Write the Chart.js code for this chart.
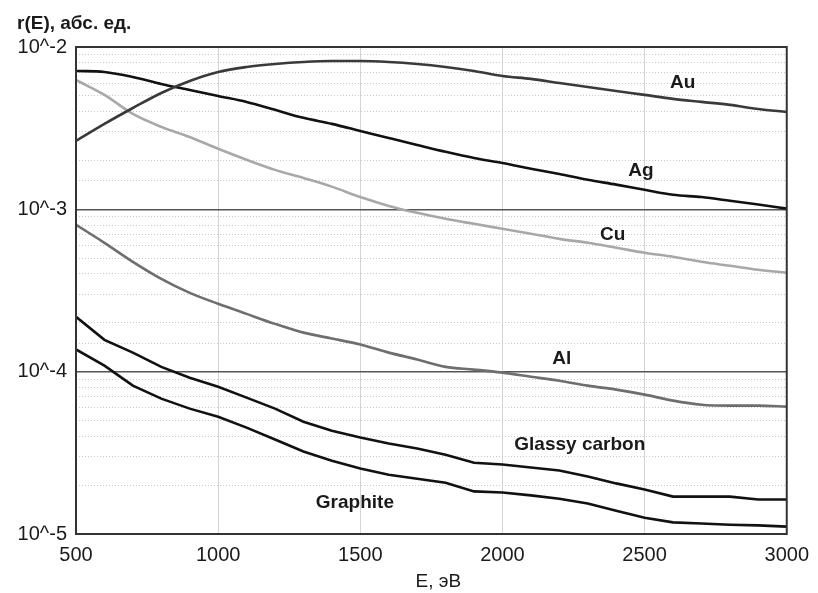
<!DOCTYPE html>
<html>
<head>
<meta charset="utf-8">
<script src="https://cdn.jsdelivr.net/npm/chart.js@4.4.1/dist/chart.umd.min.js"></script>
<style>
  html, body { margin: 0; padding: 0; background: #fff; }
  canvas { display: block; }
</style>
</head>
<body>
<canvas id="chart" width="818" height="593"></canvas>
<script>
// энергия, эВ
const energy = [500, 600, 700, 800, 900, 1000, 1100, 1200, 1300, 1400, 1500, 1600, 1700,
  1800, 1900, 2000, 2100, 2200, 2300, 2400, 2500, 2600, 2700, 2800, 2900, 3000];

const au = [2.64e-3, 3.36e-3, 4.21e-3, 5.21e-3, 6.18e-3, 7.02e-3, 7.53e-3, 7.86e-3, 8.09e-3, 8.20e-3,
  8.20e-3, 8.09e-3, 7.86e-3, 7.53e-3, 7.12e-3, 6.63e-3, 6.36e-3, 6.00e-3, 5.67e-3, 5.36e-3,
  5.07e-3, 4.79e-3, 4.59e-3, 4.40e-3, 4.15e-3, 3.98e-3];
const ag = [7.12e-3, 7.02e-3, 6.54e-3, 5.92e-3, 5.44e-3, 4.99e-3, 4.59e-3, 4.10e-3, 3.66e-3, 3.36e-3,
  3.04e-3, 2.75e-3, 2.49e-3, 2.26e-3, 2.07e-3, 1.93e-3, 1.78e-3, 1.65e-3, 1.52e-3, 1.42e-3,
  1.32e-3, 1.23e-3, 1.19e-3, 1.13e-3, 1.07e-3, 1.01e-3];
const cu = [6.26e-3, 5.07e-3, 3.87e-3, 3.22e-3, 2.79e-3, 2.36e-3, 2.02e-3, 1.75e-3, 1.56e-3, 1.38e-3,
  1.19e-3, 1.05e-3, 9.52e-4, 8.74e-4, 8.14e-4, 7.59e-4, 7.07e-4, 6.58e-4, 6.22e-4, 5.80e-4,
  5.40e-4, 5.10e-4, 4.75e-4, 4.49e-4, 4.24e-4, 4.07e-4];
const al = [8.03e-4, 6.22e-4, 4.75e-4, 3.73e-4, 3.06e-4, 2.62e-4, 2.27e-4, 1.97e-4, 1.74e-4, 1.60e-4,
  1.47e-4, 1.31e-4, 1.19e-4, 1.07e-4, 1.03e-4, 9.86e-5, 9.31e-5, 8.80e-5, 8.20e-5, 7.75e-5,
  7.22e-5, 6.63e-5, 6.26e-5, 6.18e-5, 6.18e-5, 6.09e-5];
const glassy = [2.18e-4, 1.57e-4, 1.31e-4, 1.07e-4, 9.18e-5, 8.08e-5, 6.92e-5, 5.92e-5, 4.92e-5, 4.33e-5,
  3.93e-5, 3.61e-5, 3.36e-5, 3.08e-5, 2.75e-5, 2.68e-5, 2.57e-5, 2.46e-5, 2.26e-5, 2.05e-5,
  1.88e-5, 1.70e-5, 1.70e-5, 1.70e-5, 1.63e-5, 1.63e-5];
const graphite = [1.37e-4, 1.09e-4, 8.20e-5, 6.82e-5, 5.92e-5, 5.28e-5, 4.52e-5, 3.82e-5, 3.22e-5, 2.83e-5,
  2.53e-5, 2.32e-5, 2.19e-5, 2.07e-5, 1.83e-5, 1.80e-5, 1.73e-5, 1.65e-5, 1.54e-5, 1.39e-5,
  1.26e-5, 1.18e-5, 1.16e-5, 1.14e-5, 1.13e-5, 1.11e-5];

// подписи кривых: текст, E, r(E)
const curveLabels = [
  { text: 'Au', e: 2634, v: 6.0e-3 },
  { text: 'Ag', e: 2487, v: 1.73e-3 },
  { text: 'Cu', e: 2388, v: 6.97e-4 },
  { text: 'Al', e: 2209, v: 1.20e-4 },
  { text: 'Glassy carbon', e: 2272, v: 3.56e-5 },
  { text: 'Graphite', e: 1481, v: 1.56e-5 }
];

const FONT = '"Liberation Sans", Arial, sans-serif';

const toPoints = arr => arr.map((v, i) => ({ x: energy[i], y: v }));
const isDecade = v => Math.abs(Math.log10(v) - Math.round(Math.log10(v))) < 1e-6;

const makeSet = (label, data, color, smooth) => ({
  label: label,
  data: toPoints(data),
  borderColor: color,
  borderWidth: 2.6,
  pointRadius: 0,
  fill: false,
  cubicInterpolationMode: smooth ? 'monotone' : 'default',
  tension: 0
});

const textPlugin = {
  id: 'texts',
  afterDatasetsDraw(chart) {
    const ctx = chart.ctx;
    const a = chart.chartArea;
    const xs = chart.scales.x, ys = chart.scales.y;
    ctx.save();
    // рамка
    ctx.strokeStyle = '#333';
    ctx.lineWidth = 2;
    ctx.strokeRect(a.left, a.top, a.right - a.left, a.bottom - a.top);

    ctx.fillStyle = '#1a1a1a';
    ctx.textAlign = 'center';
    ctx.textBaseline = 'middle';
    ctx.font = 'bold 19px ' + FONT;
    curveLabels.forEach(l => {
      ctx.fillText(l.text, xs.getPixelForValue(l.e), ys.getPixelForValue(l.v));
    });

    // подписи осей
    ctx.font = 'bold 19px ' + FONT;
    ctx.textAlign = 'left';
    ctx.fillText('r(E), абс. ед.', 17, 24);
    ctx.font = '19px ' + FONT;
    ctx.textAlign = 'center';
    ctx.fillText('E, эВ', (a.left + a.right) / 2 + 7, 582);
    ctx.restore();
  }
};

new Chart(document.getElementById('chart').getContext('2d'), {
  type: 'line',
  data: {
    datasets: [
      makeSet('Au', au, '#3a3a3a', true),
      makeSet('Ag', ag, '#111', true),
      makeSet('Cu', cu, '#a8a8a8', true),
      makeSet('Al', al, '#6e6e6e', true),
      makeSet('Glassy carbon', glassy, '#111', false),
      makeSet('Graphite', graphite, '#111', false)
    ]
  },
  options: {
    responsive: false,
    animation: false,
    layout: { padding: { top: 47, right: 29, left: 0, bottom: 0 } },
    plugins: {
      legend: { display: false },
      tooltip: { enabled: false }
    },
    scales: {
      x: {
        type: 'linear',
        min: 500,
        max: 3000,
        afterFit: s => { s.height = 59; },
        ticks: {
          stepSize: 500,
          padding: 9,
          color: '#1a1a1a',
          font: { family: FONT, size: 20 },
          callback: v => String(v)
        },
        grid: { color: '#d4d4d4', lineWidth: 1, drawTicks: false },
        border: { display: false }
      },
      y: {
        type: 'logarithmic',
        min: 1e-5,
        max: 1e-2,
        afterFit: s => { s.width = 76; },
        ticks: {
          autoSkip: false,
          padding: 9,
          color: '#1a1a1a',
          font: { family: FONT, size: 20 },
          callback: v => isDecade(v) ? '10^' + Math.round(Math.log10(v)) : ''
        },
        grid: {
          drawTicks: false,
          color: ctx => isDecade(ctx.tick.value) ? '#555' : '#c9c9c9',
          lineWidth: ctx => isDecade(ctx.tick.value) ? 1.5 : 1
        },
        border: {
          display: false,
          dash: ctx => (ctx.tick && !isDecade(ctx.tick.value)) ? [1, 2] : []
        }
      }
    }
  },
  plugins: [textPlugin]
});
</script>
</body>
</html>
